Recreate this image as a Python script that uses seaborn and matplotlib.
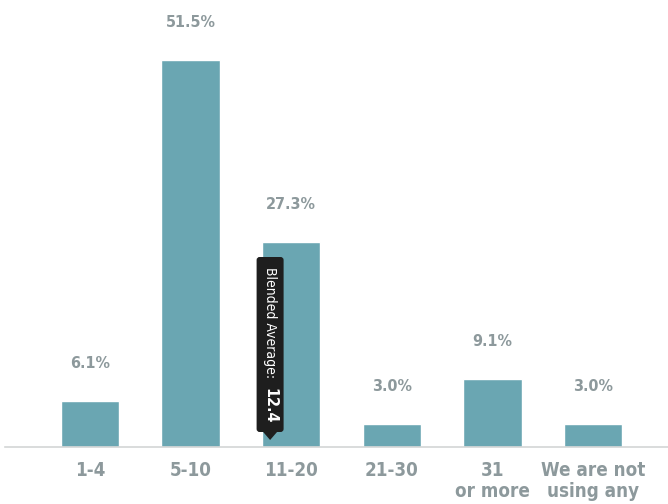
import matplotlib
matplotlib.use("Agg")
import matplotlib.pyplot as plt
from matplotlib import font_manager as fm
import seaborn as sns
import pandas as pd
from matplotlib.patches import FancyBboxPatch, Polygon

categories = ["1-4", "5-10", "11-20", "21-30", "31\nor more", "We are not\nusing any"]
shares = [6.1, 51.5, 27.3, 3.0, 9.1, 3.0]
blended_average = 12.4

BAR = "#6aa6b2"
GRAY = "#8d999c"


def narrow_font(bold):
    """Pick a condensed/narrow face if one is installed."""
    best = None
    for f in fm.fontManager.ttflist:
        name = (f.name + " " + f.fname).lower()
        narrow = ("narrow" in name or "condensed" in name
                  or str(f.stretch).lower() in ("condensed", "semi-condensed", "extra-condensed"))
        if not narrow:
            continue
        w = f.weight if isinstance(f.weight, int) else (700 if "bold" in str(f.weight) else 400)
        is_bold = w >= 600
        if "oblique" in name or "italic" in name:
            continue
        if is_bold == bold:
            return fm.FontProperties(fname=f.fname)
        best = best or f
    if best is not None:
        return fm.FontProperties(fname=best.fname, weight="bold" if bold else "normal")
    return fm.FontProperties(family="DejaVu Sans", weight="bold" if bold else "normal")


sns.set_theme(style="white")
plt.rcParams["font.family"] = ["DejaVu Sans"]

FP_BOLD = narrow_font(True)
FP_REG = narrow_font(False)

df = pd.DataFrame({"range": categories, "share": shares})

fig = plt.figure(figsize=(6.68, 5.04), dpi=100)
ax = fig.add_axes([5 / 668, 57 / 504, 663 / 668, 447 / 504])

sns.barplot(data=df, x="range", y="share", color=BAR, width=0.58,
            saturation=1, ax=ax)

ax.set_xlim(-0.845, 5.745)
ax.set_ylim(0, 59.5)
ax.set_xlabel("")
ax.set_ylabel("")
ax.set_yticks([])
for s in ["top", "left", "right"]:
    ax.spines[s].set_visible(False)
ax.spines["bottom"].set_color("#d3d6d6")
ax.spines["bottom"].set_linewidth(1.2)
ax.tick_params(axis="x", length=0, pad=10)
for lbl in ax.get_xticklabels():
    lbl.set_fontproperties(FP_BOLD)
    lbl.set_fontsize(13.5)
    lbl.set_color(GRAY)
    lbl.set_linespacing(1.15)

# value labels above each bar
for i, v in enumerate(shares):
    t = ax.annotate(f"{v:.1f}%", (i, v), xytext=(0, 27), textcoords="offset points",
                    ha="center", va="center", color=GRAY)
    t.set_fontproperties(FP_BOLD)
    t.set_fontsize(11.5)

# blended average callout (vertical tooltip)
tip_x = 1.79
px_to_x = 1 / 100.6
px_to_y = 59.5 / 447
box_w = 27 * px_to_x
box_bottom = 15 * px_to_y
box_top = 190 * px_to_y
box = FancyBboxPatch((tip_x - box_w / 2, box_bottom), box_w, box_top - box_bottom,
                     boxstyle="round,pad=0,rounding_size=0.03",
                     mutation_aspect=px_to_y / px_to_x,
                     facecolor="#1e1e1e", edgecolor="none", zorder=5)
ax.add_patch(box)
tri = Polygon([(tip_x - 7 * px_to_x, box_bottom + 0.01), (tip_x + 7 * px_to_x, box_bottom + 0.01),
               (tip_x, 7 * px_to_y)], closed=True, facecolor="#1e1e1e",
              edgecolor="none", zorder=5)
ax.add_patch(tri)
t1 = ax.text(tip_x, box_top - 10 * px_to_y, "Blended Average:", rotation=270,
             ha="center", va="top", color="white", zorder=6)
t1.set_fontproperties(FP_REG)
t1.set_fontsize(10)
t2 = ax.text(tip_x, box_bottom + 8 * px_to_y, f"{blended_average}", rotation=270,
             ha="center", va="bottom", color="white", zorder=6)
t2.set_fontproperties(FP_BOLD)
t2.set_fontsize(11.5)

fig.savefig("out.png", dpi=100)
